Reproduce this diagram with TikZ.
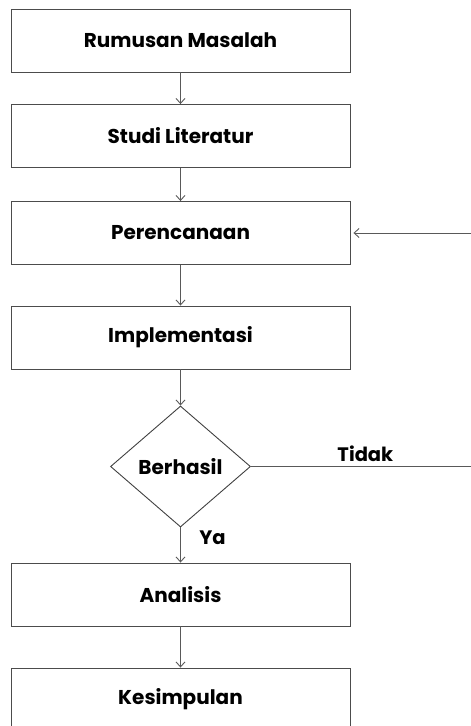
\documentclass[tikz,border=0pt]{standalone}
\usepackage{fontspec}
\setmainfont{Poppins}
\usetikzlibrary{shapes.geometric,arrows.meta}
\begin{document}
\begin{tikzpicture}[x=1pt,y=-1pt,
  stepbox/.style={draw=black!70,line width=0.9pt,minimum width=339pt,minimum height=63pt,inner sep=0pt,font=\bfseries\fontsize{20}{22}\selectfont},
  decbox/.style={draw=black!75,line width=0.9pt,diamond,minimum width=140pt,minimum height=121pt,inner sep=0pt,font=\bfseries\fontsize{20}{22}\selectfont},
  conn/.style={draw=black!65,line width=0.9pt,-{Straight Barb[length=5pt,width=9pt]}},
  lbl/.style={font=\fontsize{19.5}{22}\selectfont\bfseries}]
\useasboundingbox (0,0) rectangle (471,726);
\begin{scope}
\clip (0,0) rectangle (471,726);
\node[stepbox] (a) at (180.5,40.5) {Rumusan Masalah};
\node[stepbox] (b) at (180.5,136) {Studi Literatur};
\node[stepbox] (c) at (180.5,233) {Perencanaan};
\node[stepbox] (d) at (180.5,337.5) {Implementasi};
\node[decbox] (e) at (180.5,466.5) {Berhasil};
\node[stepbox] (f) at (180.5,594.5) {Analisis};
\node[stepbox] (g) at (180.5,699.5) {Kesimpulan};
\coordinate (r1) at (471,233);
\coordinate (r2) at (471,466.5);
\draw[conn] (a) -- (b);
\draw[conn] (b) -- (c);
\draw[conn] (c) -- (d);
\draw[conn] (d) -- (e);
\draw[conn] (e) -- node[lbl,right,xshift=15pt,yshift=7pt]{Ya} (f);
\draw[conn] (f) -- (g);
\draw[draw=black!65,line width=0.9pt] (e.east) -- node[lbl,above,pos=0.52,yshift=1pt]{Tidak} (r2);
\draw[conn] (r1) -- ([xshift=3pt]c.east);
\end{scope}
\end{tikzpicture}
\end{document}
